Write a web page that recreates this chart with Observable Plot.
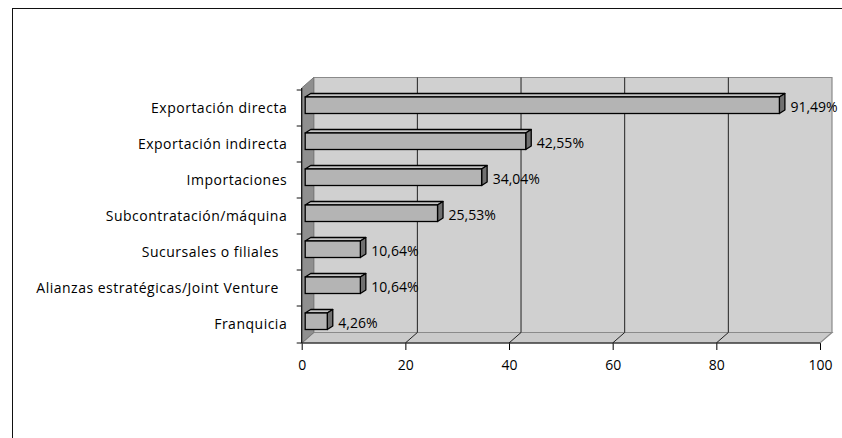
<!DOCTYPE html>
<html><head><meta charset="utf-8">
<script src="https://cdn.jsdelivr.net/npm/d3@7"></script>
<script src="https://cdn.jsdelivr.net/npm/@observablehq/plot@0.6"></script>
<style>
body{margin:0;background:#fff;}
#wrap{position:relative;width:842px;height:438px;overflow:hidden;background:#fff;}
#frame{position:absolute;left:12px;top:8px;width:900px;height:600px;border:1.5px solid #111;}
#chart{position:absolute;left:0;top:0;}
#chart g[aria-label="y-axis tick label"] text{letter-spacing:0.5px;}
</style></head><body>
<div id="wrap"><div id="frame"></div><div id="chart"></div></div>
<script>
const categories = [
  "Exportación directa",
  "Exportación indirecta",
  "Importaciones",
  "Subcontratación/máquina",
  "Sucursales o filiales\u00a0\u00a0",
  "Alianzas estratégicas/Joint Venture\u00a0\u00a0",
  "Franquicia"
];
const values = [91.49, 42.55, 34.04, 25.53, 10.64, 10.64, 4.26];
const valueLabels = ["91,49%", "42,55%", "34,04%", "25,53%", "10,64%", "10,64%", "4,26%"];
const xTicks = [0, 20, 40, 60, 80, 100];

const data = categories.map((c, i) => ({category: c, value: values[i], label: valueLabels[i]}));

// 3D projection settings (style)
const WALL = [12, -10.5];
const BAR_FRONT = [3.5, -3];
const BAR_DEPTH = [5.5, -3.5];
const INSET_TOP = 10, INSET_BOTTOM = 9.5;

function pts(a) { return a.map(p => p.join(",")).join(" "); }

function decor(index, scales, values, dims) {
  const x = scales.x, y = scales.y;
  const x0 = x(0), x1 = x(100);
  const yTop = dims.marginTop, yBot = dims.height - dims.marginBottom;
  const [dx, dy] = WALL;
  const g = d3.create("svg:g");
  g.append("polygon").attr("points", pts([[x0+dx, yTop+dy], [x1+dx, yTop+dy], [x1+dx, yBot+dy], [x0+dx, yBot+dy]]))
    .attr("fill", "#d0d0d0").attr("stroke", "#8a8a8a").attr("stroke-width", 1.2);
  g.append("polygon").attr("points", pts([[x0, yBot], [x1, yBot], [x1+dx, yBot+dy], [x0+dx, yBot+dy]]))
    .attr("fill", "#cacaca").attr("stroke", "#8a8a8a").attr("stroke-width", 1.2);
  g.append("polygon").attr("points", pts([[x0, yTop], [x0+dx, yTop+dy], [x0+dx, yBot+dy], [x0, yBot]]))
    .attr("fill", "#8f8f8f").attr("stroke", "#7a7a7a").attr("stroke-width", 1);
  for (const t of xTicks) {
    if (t === 0 || t === 100) continue;
    const xt = x(t);
    g.append("line").attr("x1", xt+dx).attr("x2", xt+dx).attr("y1", yTop+dy).attr("y2", yBot+dy)
      .attr("stroke", "#222").attr("stroke-width", 1);
    g.append("line").attr("x1", xt).attr("x2", xt+dx).attr("y1", yBot).attr("y2", yBot+dy)
      .attr("stroke", "#222").attr("stroke-width", 1);
  }
  g.append("line").attr("x1", x0).attr("x2", x1).attr("y1", yBot).attr("y2", yBot).attr("stroke", "#111").attr("stroke-width", 1.2);
  g.append("line").attr("x1", x0).attr("x2", x0).attr("y1", yTop).attr("y2", yBot).attr("stroke", "#111").attr("stroke-width", 1.2);
  categories.forEach(c => {
    const yy = y(c);
    g.append("line").attr("x1", x0-5).attr("x2", x0).attr("y1", yy).attr("y2", yy).attr("stroke", "#111");
  });
  g.append("line").attr("x1", x0-5).attr("x2", x0).attr("y1", yBot).attr("y2", yBot).attr("stroke", "#111");
  return g.node();
}

function barFaces(index, scales) {
  const x = scales.x, y = scales.y;
  const bw = y.bandwidth();
  const g = d3.create("svg:g");
  const [fx, fy] = BAR_FRONT, [ddx, ddy] = BAR_DEPTH;
  for (const d of data) {
    const xa = x(0) + fx, xb = x(d.value) + fx;
    const ya = y(d.category) + INSET_TOP + fy, yb = y(d.category) + bw - INSET_BOTTOM + fy;
    g.append("polygon").attr("points", pts([[xa, ya], [xb, ya], [xb+ddx, ya+ddy], [xa+ddx, ya+ddy]]))
      .attr("fill", "#c4c4c4").attr("stroke", "#000").attr("stroke-width", 1.3).attr("stroke-linejoin", "round");
    g.append("polygon").attr("points", pts([[xb, ya], [xb+ddx, ya+ddy], [xb+ddx, yb+ddy], [xb, yb]]))
      .attr("fill", "#707070").attr("stroke", "#000").attr("stroke-width", 1.3).attr("stroke-linejoin", "round");
  }
  return g.node();
}

const chart = Plot.plot({
  width: 842,
  height: 438,
  marginLeft: 301.7,
  marginRight: 22,
  marginTop: 88,
  marginBottom: 95,
  style: {fontFamily: "'Open Sans', sans-serif", fontSize: "14px", color: "#000", background: "transparent"},
  x: {domain: [0, 100], ticks: xTicks, tickSize: 7, tickPadding: 10, label: null},
  y: {domain: categories, padding: 0, tickSize: 0, tickPadding: 15, label: null},
  marks: [
    decor,
    barFaces,
    Plot.barX(data, {x1: 0, x2: "value", y: "category", dx: BAR_FRONT[0], dy: BAR_FRONT[1],
      insetTop: INSET_TOP, insetBottom: INSET_BOTTOM, fill: "#b4b4b4", stroke: "#000", strokeWidth: 1.3}),
    Plot.text(data, {x: "value", y: "category", text: "label", textAnchor: "start", dx: 14, dy: -1, fontSize: 14, fill: "#000"})
  ]
});
document.getElementById("chart").appendChild(chart);
</script>
</body></html>
